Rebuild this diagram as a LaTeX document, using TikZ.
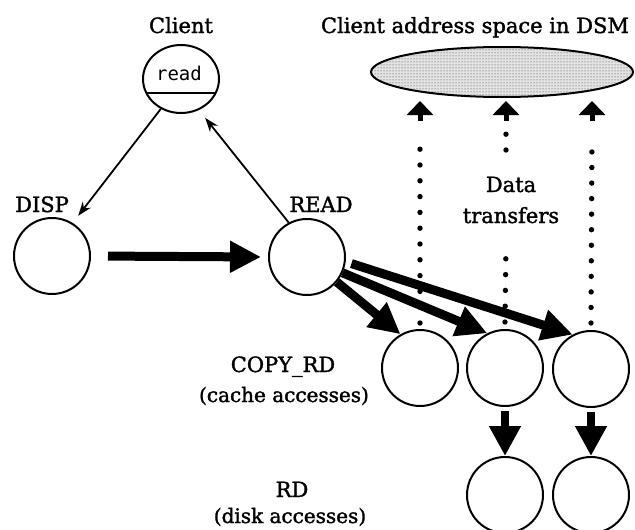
\documentclass[tikz,border=0pt]{standalone}
\usepackage{fontspec}
\setmainfont{DejaVu Serif}[FakeBold=1.6]
\newfontfamily\monofont{DejaVu Sans Mono}
\usetikzlibrary{arrows.meta,shapes.geometric,patterns,calc}

\begin{document}
\begin{tikzpicture}[x=1pt,y=-1pt,
  proc/.style={circle,draw,line width=2pt,minimum size=76pt,inner sep=0pt},
  lbl/.style={font=\fontsize{21}{24}\selectfont,anchor=base,inner sep=0pt},
  sublbl/.style={font=\fontsize{20}{23}\selectfont,anchor=base,inner sep=0pt},
  thinarrow/.style={line width=1.8pt,-{Stealth[length=14pt,width=10pt]}},
  bigarrow/.style={line width=9pt,-{Triangle[length=31pt,width=30pt]}},
  downarrow/.style={line width=8pt,-{Triangle[length=30pt,width=30pt]}},
  uparrow/.style={line width=5pt,-{Triangle[length=14pt,width=26pt]}},
  dotline/.style={line width=5.4pt,line cap=round,dash pattern=on 0pt off 15.8pt}]

\useasboundingbox (0,0) rectangle (635,530);

% processes
\node[ellipse,draw,line width=2pt,minimum width=76pt,minimum height=68pt,inner sep=0pt] (cl) at (181,79) {};
\node[proc] (disp)  at (52,256)  {};
\node[proc] (readp) at (307,257) {};
\node[proc] (c1) at (420,368) {};
\node[proc] (c2) at (505,368) {};
\node[proc] (c3) at (591,369) {};
\node[proc] (r1) at (505,495) {};
\node[proc] (r2) at (591,495) {};

% client request slot
\node[font=\monofont\fontsize{19}{22}\selectfont,inner sep=0pt] (req) at (179,73) {read};
\draw[line width=2pt] ($(cl.center)+(-34.6,14)$) coordinate (ca) -- ($(cl.center)+(34.6,14)$) coordinate (cb);

% shared address space
\node[ellipse,draw,line width=2pt,minimum width=262pt,minimum height=50pt,inner sep=0pt,
      preaction={fill=gray!22},pattern=dots,pattern color=black!80] (dsm) at (502,72) {};

% labels
\node[lbl] (tcl)   at (181,33)  {Client};
\node[lbl] (tdsm)  at (475,33)  {Client address space in DSM};
\node[lbl] (tdisp) at (42,212)  {DISP};
\node[lbl] (tread) at (321,212) {READ};
\node[lbl] (tdata) at (511,192) {Data};
\node[lbl] (ttr)   at (511,223) {transfers};
\node[lbl] (tcopy) at (283,372) {COPY\_RD};
\node[sublbl] (tcache) at (284,402) {(cache accesses)};
\node[lbl] (trd)   at (292,497) {RD};
\node[sublbl] (tdisk) at (290,523) {(disk accesses)};

% control flow
\draw[thinarrow,shorten >=9pt] (cl.236) -- (disp.58);
\draw[thinarrow,shorten >=10pt] (readp.118) -- (cl.300);
\draw[bigarrow,shorten <=17pt,shorten >=7pt] (disp.east) -- (readp.west);
\draw[bigarrow] (readp.-40) -- (c1.120);
\draw[bigarrow] (readp.-24) -- (c2.117);
\draw[bigarrow,shorten <=6pt] (readp.-7) -- (c3.118);
\draw[downarrow,shorten <=4pt] (c2.south) -- (r1.north);
\draw[downarrow,shorten <=4pt] (c3.south) -- (r2.north);

% data transfers into the address space
\coordinate (u1) at (420,121);
\coordinate (u2) at (506,121);
\coordinate (u3) at (592,121);
\draw[dotline] ($(c1.north)+(0,-6)$) -- (420,133.8);
\draw[dotline] ($(c2.north)+(0,-7)$) -- (506,243.6);
\draw[dotline] (506,150) -- (506,134);
\draw[dotline,dash pattern=on 0pt off 15.55pt] ($(c3.north)+(0,-7)$) -- (592,137);
\draw[uparrow] (u1) -- ($(u1 |- dsm.south)+(0,3)$);
\draw[uparrow] (u2) -- ($(u2 |- dsm.south)+(0,3)$);
\draw[uparrow] (u3) -- ($(u3 |- dsm.south)+(0,3)$);

\end{tikzpicture}
\end{document}
